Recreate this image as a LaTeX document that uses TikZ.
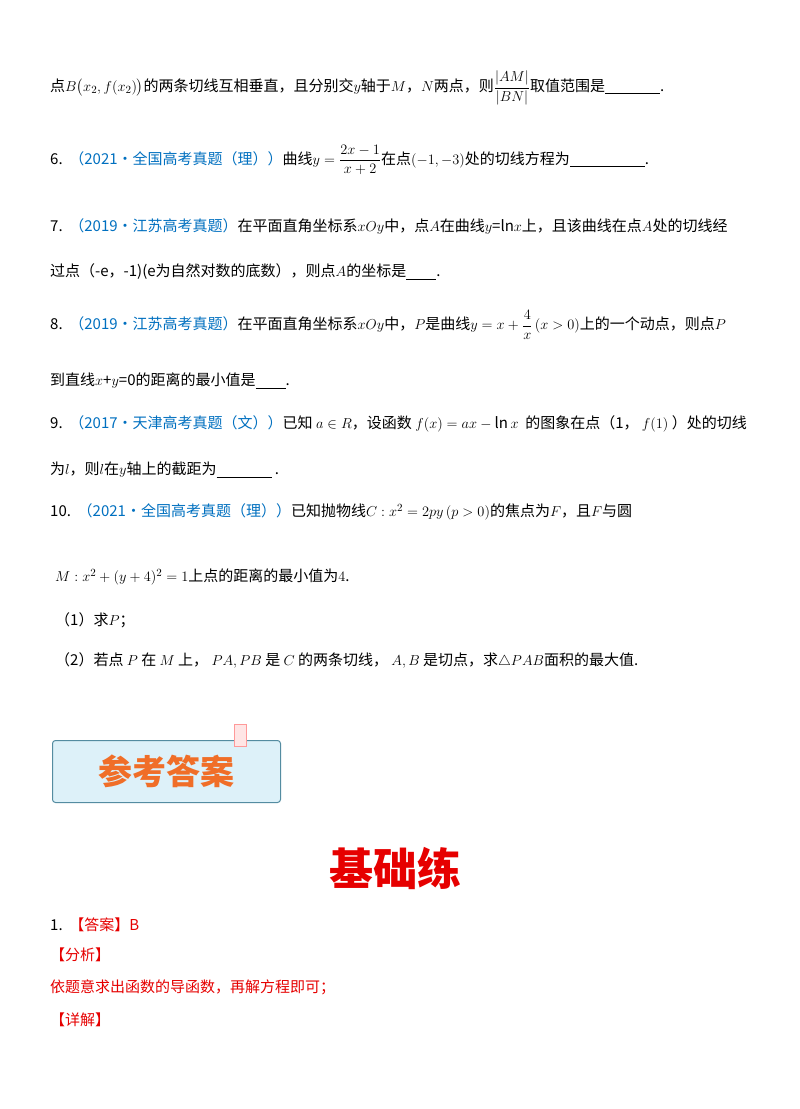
\documentclass[tikz,border=0pt]{standalone}
\usepackage{amsmath}
\usepackage{fontspec}
\setmainfont{Noto Sans CJK SC}
\definecolor{srcblue}{RGB}{0,112,192}
\definecolor{ansred}{RGB}{230,0,0}
\definecolor{bannerorange}{RGB}{240,110,40}
\definecolor{bannerblue}{RGB}{120,200,230}
\begin{document}
\begin{tikzpicture}[x=1pt,y=-1pt,
  txt/.style={anchor=west,inner sep=0pt,font=\fontsize{15}{17}\selectfont},
  ans/.style={txt,text=ansred}]
\useasboundingbox[fill=white] (0,0) rectangle (800,1109);
\node[txt] (l1) at (50,88) {点$B\bigl(x_2,f(x_2)\bigr)$的两条切线互相垂直，且分别交$y$轴于$M$，$N$两点，则$\dfrac{|AM|}{|BN|}$取值范围是\underline{\hspace{55pt}}.};
\node[txt] (q6) at (50,160) {6.\ \ \textcolor{srcblue}{（2021·全国高考真题（理））}曲线$y=\dfrac{2x-1}{x+2}$在点$(-1,-3)$处的切线方程为\underline{\hspace{75pt}}.};
\node[txt] (q7) at (50,226) {7.\ \ \textcolor{srcblue}{（2019·江苏高考真题）}在平面直角坐标系$xOy$中，点$A$在曲线$y$=ln$x$上，且该曲线在点$A$处的切线经};
\node[txt] (q7b) at (50,272) {过点（-e，-1)(e为自然对数的底数），则点$A$的坐标是\underline{\hspace{30pt}}.};
\node[txt] (q8) at (50,325) {8.\ \ \textcolor{srcblue}{（2019·江苏高考真题）}在平面直角坐标系$xOy$中，$P$是曲线$y=x+\dfrac{4}{x}\,(x>0)$上的一个动点，则点$P$};
\node[txt] (q8b) at (50,381) {到直线$x$+$y$=0的距离的最小值是\underline{\hspace{30pt}}.};
\node[txt] (q9) at (50,424) {9.\ \ \textcolor{srcblue}{（2017·天津高考真题（文））}已知\ $a\in R$，设函数\ $f(x)=ax-\ln x$\ \ 的图象在点（1，\ $f(1)$\ ）处的切线};
\node[txt] (q9b) at (50,470) {为$l$，则$l$在$y$轴上的截距为\underline{\hspace{55pt}}\ .};
\node[txt] (q10) at (50,512) {10.\ \ \textcolor{srcblue}{（2021·全国高考真题（理））}已知抛物线$C:x^2=2py\,(p>0)$的焦点为$F$，且$F$与圆};
\node[txt] (q10b) at (55,577) {$M:x^2+(y+4)^2=1$上点的距离的最小值为$4$.};
\node[txt] (q10c) at (55,620) {（1）求$P$；};
\node[txt] (q10d) at (55,660) {（2）若点\ $P$\ 在\ $M$\ 上，\ $PA,PB$\ 是\ $C$\ 的两条切线，\ $A,B$\ 是切点，求$\triangle PAB$面积的最大值.};
\node[draw=bannerblue!70!black,line width=1pt,fill=bannerblue!25,rounded corners=3pt,minimum width=228pt,minimum height=62pt,anchor=north west,inner sep=0pt] (banner) at (52,740) {};
\node[font=\fontsize{34}{36}\selectfont\bfseries,text=bannerorange] (bantxt) at (banner.center) {参考答案};
\node[draw=pink!80!red,fill=pink!40,line width=1pt,minimum width=12pt,minimum height=22pt,inner sep=0pt] (clip) at (240,735) {};
\node[font=\fontsize{44}{48}\selectfont\bfseries,text=ansred] (jcl) at (395,868) {基础练};
\node[txt] (a1) at (50,925) {1.\ \ \textcolor{ansred}{【答案】B}};
\node[ans] (a2) at (50,955) {【分析】};
\node[ans] (a3) at (50,987) {依题意求出函数的导函数，再解方程即可；};
\node[ans] (a4) at (50,1020) {【详解】};
\end{tikzpicture}
\end{document}
